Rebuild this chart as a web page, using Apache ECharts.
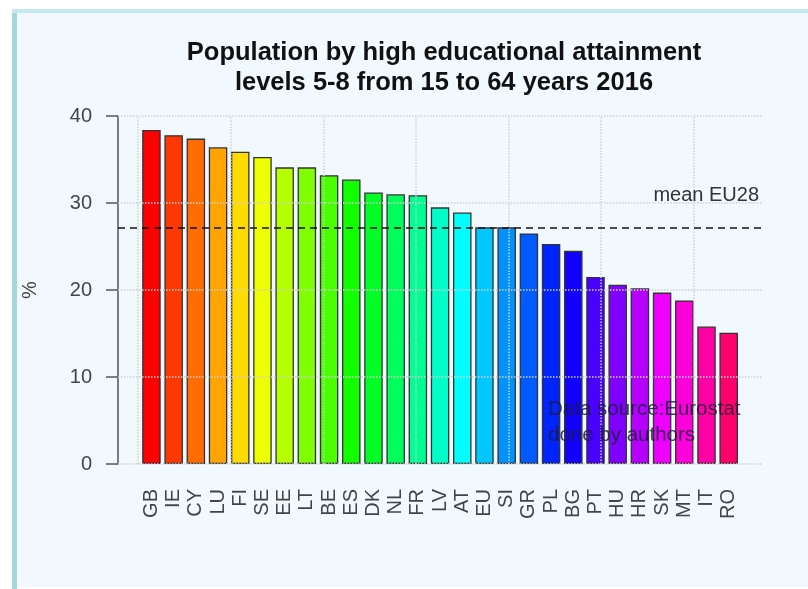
<!DOCTYPE html>
<html>
<head>
<meta charset="utf-8">
<script src="https://cdn.jsdelivr.net/npm/echarts@6/dist/echarts.min.js"></script>
<style>
  html, body { margin: 0; padding: 0; background: #fff; }
  #chart { width: 808px; height: 589px; }
</style>
</head>
<body>
<div id="chart"></div>
<script>
// 国家代码 / 数值 (%)
var countries = ['GB','IE','CY','LU','FI','SE','EE','LT','BE','ES','DK','NL','FR','LV','AT',
                 'EU','SI','GR','PL','BG','PT','HU','HR','SK','MT','IT','RO'];
var values = [38.4, 37.8, 37.4, 36.4, 35.9, 35.3, 34.1, 34.1, 33.2, 32.7, 31.2, 31.0, 30.9, 29.5, 28.9,
              27.2, 27.2, 26.5, 25.3, 24.5, 21.5, 20.6, 20.2, 19.7, 18.8, 15.8, 15.1];
var meanEU = 27.2;
var yTicks = [0, 10, 20, 30, 40];
var xGridAt = [0, 5, 10, 15, 20, 25, 30];

// R 的 rainbow(n)
function rainbow (n) {
  var out = [];
  for (var i = 0; i < n; i++) {
    var h = i / n * 6, f = h - Math.floor(h), k = Math.floor(h) % 6;
    var q = 1 - f, t = f, rgb;
    if (k == 0) rgb = [1, t, 0];
    else if (k == 1) rgb = [q, 1, 0];
    else if (k == 2) rgb = [0, 1, t];
    else if (k == 3) rgb = [0, q, 1];
    else if (k == 4) rgb = [t, 0, 1];
    else rgb = [1, 0, q];
    out.push('#' + rgb.map(function (v) {
      var s = Math.round(v * 255).toString(16);
      return s.length < 2 ? '0' + s : s;
    }).join(''));
  }
  return out;
}
var colors = rainbow(countries.length + 1);

var font = 'Liberation Sans, Arial, sans-serif';
var gridLine = { color: '#cfcfcf', type: 'dotted', width: 1.5 };

var myChart = echarts.init(document.getElementById('chart'));
var option = {
  backgroundColor: '#fff',
  animation: false,
  title: {
    text: 'Population by high educational attainment\nlevels 5-8 from 15 to 64 years 2016',
    left: 439,
    textAlign: 'center',
    top: 33,
    textStyle: { fontFamily: font, fontSize: 25.5, fontWeight: 'bold', color: '#111', lineHeight: 30 }
  },
  graphic: [
    { type: 'rect', z: -10, shape: { x: 12, y: 9, width: 800, height: 578 },
      style: { fill: '#f1f8fe' } },
    { type: 'rect', z: -9, shape: { x: 12, y: 9, width: 5, height: 580 },
      style: { fill: '#a6d6e0' } },
    { type: 'rect', z: -9, shape: { x: 12, y: 9, width: 800, height: 4 },
      style: { fill: '#c6e9ef' } },
    { type: 'text', z: 20, x: 759, y: 195,
      style: { text: 'mean EU28', align: 'right', verticalAlign: 'middle',
               font: '20px ' + font, fill: '#333' } },
    { type: 'text', z: 20, x: 548, y: 396,
      style: { text: 'Data source:Eurostat\ndone by authors', align: 'left', verticalAlign: 'top',
               font: '20.5px ' + font, lineHeight: 26, fill: '#1c1c3c', opacity: 0.85 } }
  ],
  grid: [
    { left: 140.35, right: 68.2, top: 116, bottom: 125 },
    { left: 118, right: 46, top: 116, bottom: 125 }
  ],
  xAxis: [
    {
      type: 'category', gridIndex: 0, data: countries,
      axisLine: { show: false }, axisTick: { show: false },
      axisLabel: { interval: 0, rotate: 90, margin: 25, fontFamily: font, fontSize: 20, color: '#444' }
    },
    {
      type: 'value', gridIndex: 1, min: -1.088, max: 33.688,
      axisLine: { show: false }, axisTick: { show: false },
      axisLabel: { show: false }, splitLine: { show: false }
    }
  ],
  yAxis: [
    { type: 'value', gridIndex: 0, min: 0, max: 40, show: false },
    {
      type: 'value', gridIndex: 1, min: 0, max: 40, interval: 10,
      name: '%', nameLocation: 'middle', nameRotate: 90, nameGap: 78,
      nameTextStyle: { fontFamily: font, fontSize: 20, color: '#444' },
      axisLine: { show: true, onZero: false, lineStyle: { color: '#555', width: 1.5 } },
      axisTick: { show: true, length: 12, lineStyle: { color: '#555', width: 1.5 } },
      axisLabel: { margin: 26, fontFamily: font, fontSize: 20, color: '#444' },
      splitLine: { show: false }
    }
  ],
  series: [
    {
      type: 'bar', xAxisIndex: 0, yAxisIndex: 0,
      barWidth: 18.5,
      data: values.map(function (v, i) {
        return { value: v, itemStyle: { color: colors[i] } };
      }),
      itemStyle: { borderColor: '#333', borderWidth: 1.3 }
    },
    {
      type: 'line', xAxisIndex: 1, yAxisIndex: 1, data: [], z: 5,
      markLine: {
        silent: true, symbol: 'none', label: { show: false },
        lineStyle: gridLine,
        data: yTicks.map(function (v) { return { yAxis: v }; })
          .concat(xGridAt.map(function (v) { return { xAxis: v }; }))
      }
    },
    {
      type: 'line', xAxisIndex: 1, yAxisIndex: 1, data: [], z: 6,
      markLine: {
        silent: true, symbol: 'none', label: { show: false },
        lineStyle: { color: '#111', type: [7, 5], width: 1.5 },
        data: [{ yAxis: meanEU }]
      }
    }
  ]
};
myChart.setOption(option);
</script>
</body>
</html>
